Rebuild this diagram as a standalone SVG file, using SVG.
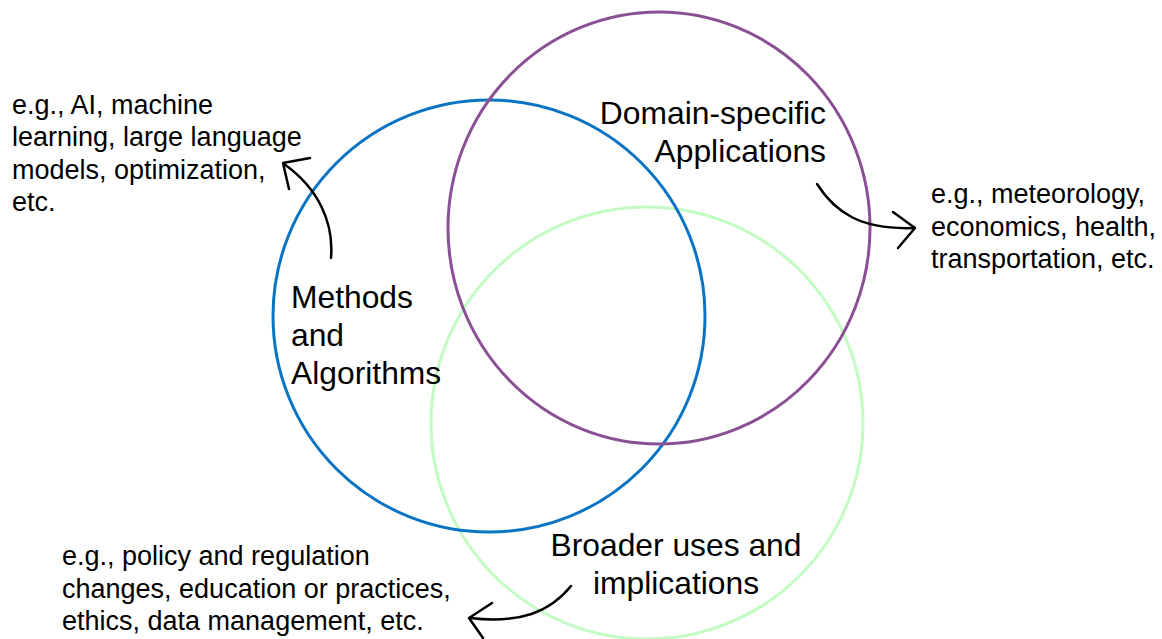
<svg xmlns="http://www.w3.org/2000/svg" width="1162" height="639" viewBox="0 0 1162 639">
<style>
.c{fill:none;stroke-width:3}
.lbl{font-family:"Liberation Sans",Arial,sans-serif;font-size:31.8px;fill:#000}
.ex{font-family:"Liberation Sans",Arial,sans-serif;font-size:27px;fill:#000}
.ar{fill:none;stroke:#000;stroke-width:2.5;stroke-linecap:round;stroke-linejoin:round}
</style>
<rect width="1162" height="639" fill="#fff"/>
<g id="green">
<circle class="c" cx="647" cy="423" r="216" stroke="#C2FCC2"/>
</g>
<g id="blue">
<circle class="c" cx="489" cy="316" r="216" stroke="#0A74C4"/>
</g>
<g id="purple">
<ellipse class="c" cx="659" cy="228" rx="211" ry="216" stroke="#8A4F94"/>
</g>
<g id="methods">
<text class="lbl" x="291" y="308">Methods</text>
<text class="lbl" x="291" y="346">and</text>
<text class="lbl" x="291" y="384">Algorithms</text>
</g>
<g id="domain">
<text class="lbl" x="826" y="124" text-anchor="end">Domain-specific</text>
<text class="lbl" x="826" y="162" text-anchor="end">Applications</text>
</g>
<g id="broader">
<text class="lbl" x="676" y="556" text-anchor="middle">Broader uses and</text>
<text class="lbl" x="676" y="594" text-anchor="middle">implications</text>
</g>
<g id="ex-methods">
<text class="ex" x="12" y="114">e.g., AI, machine</text>
<text class="ex" x="12" y="146">learning, large language</text>
<text class="ex" x="12" y="179">models, optimization,</text>
<text class="ex" x="12" y="211">etc.</text>
</g>
<g id="ex-domain">
<text class="ex" x="931" y="203">e.g., meteorology,</text>
<text class="ex" x="931" y="236">economics, health,</text>
<text class="ex" x="931" y="268">transportation, etc.</text>
</g>
<g id="ex-broader">
<text class="ex" x="62" y="565">e.g., policy and regulation</text>
<text class="ex" x="62" y="598">changes, education or practices,</text>
<text class="ex" x="62" y="630">ethics, data management, etc.</text>
</g>
<g id="connectors">
<path class="ar" d="M331,258 C334,222 318,188 284,164"/>
<path class="ar" d="M310,158 L283,163 L289,189"/>
<path class="ar" d="M817,184 C835,212 860,230 914,228"/>
<path class="ar" d="M893,212 L915,228 L898,248"/>
<path class="ar" d="M571,586 C550,612 520,624 470,618"/>
<path class="ar" d="M492,603 L469,618 L483,638"/>
</g>
</svg>
